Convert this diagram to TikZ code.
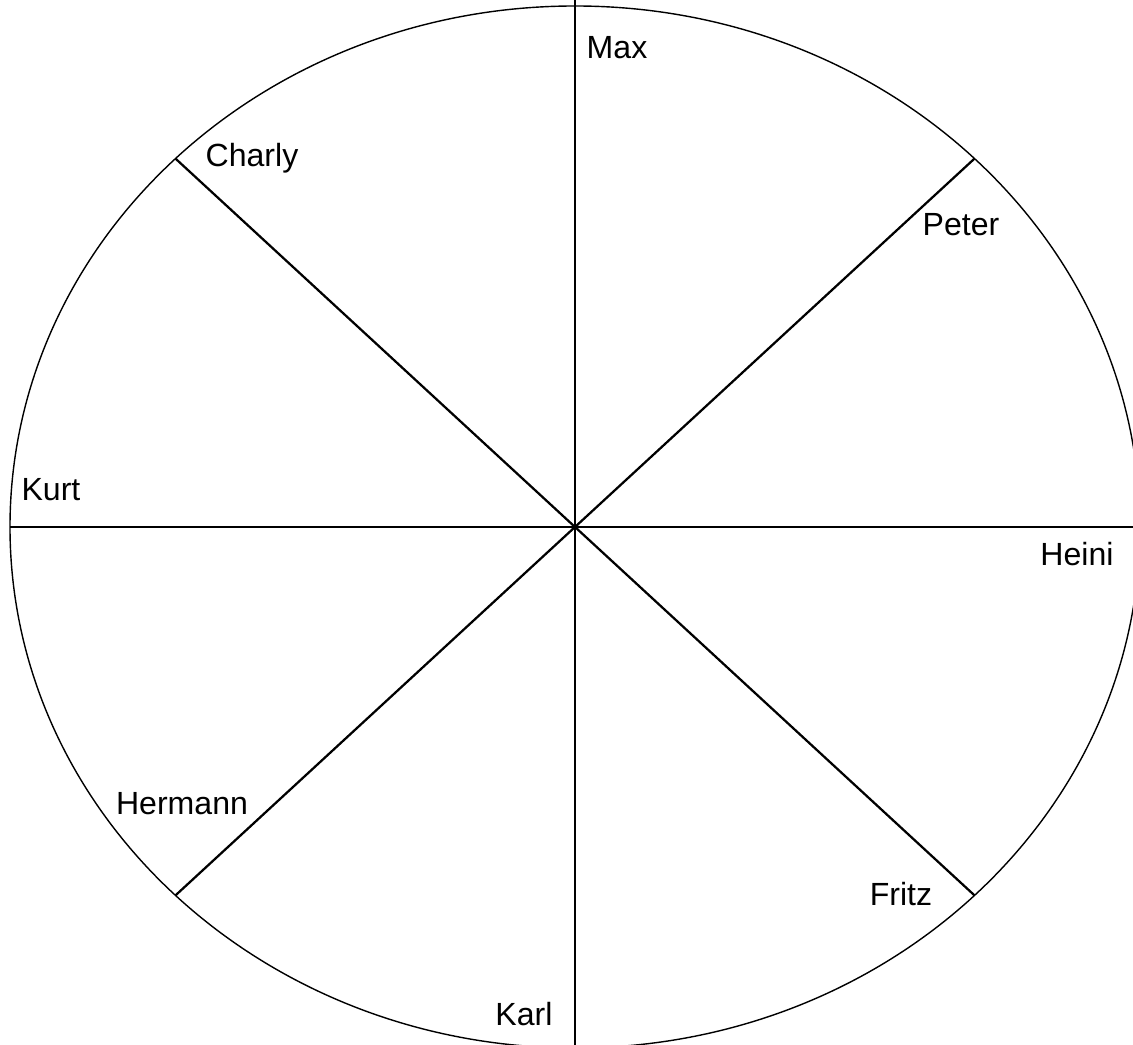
\documentclass[tikz,border=0pt]{standalone}
\usepackage{fontspec}
\setmainfont{Liberation Sans}
\usetikzlibrary{calc}
\begin{document}
\begin{tikzpicture}[
  x=0.025cm, y=0.025cm,
  spoke/.style={line width=1.6pt},
  rim/.style={line width=1pt},
  tag/.style={anchor=base, inner sep=0pt, font=\fontsize{22.8}{27}\selectfont},
]
  \clip (0,0) rectangle (1133,1045);
  \coordinate (c) at (575,518);
  \draw[rim] (c) ellipse [x radius=565, y radius=521];
  % ends of the spokes
  \coordinate (n) at (575,1045);
  \coordinate (s) at (575,0);
  \coordinate (w) at (10,518);
  \coordinate (e) at (1140,518);
  \coordinate (ne) at ($(c)+(45:565 and 521)$);
  \coordinate (nw) at ($(c)+(135:565 and 521)$);
  \coordinate (sw) at ($(c)+(225:565 and 521)$);
  \coordinate (se) at ($(c)+(315:565 and 521)$);
  \foreach \p in {n,s,w,e,ne,nw,sw,se}
    \draw[spoke] (c) -- (\p);
  \node[tag] (max) at (617,986) {Max};
  \node[tag] (charly) at (252,878) {Charly};
  \node[tag] (peter) at (961,809) {Peter};
  \node[tag] (kurt) at (51,544) {Kurt};
  \node[tag] (heini) at (1077,479) {Heini};
  \node[tag] (hermann) at (182,230) {Hermann};
  \node[tag] (fritz) at (901,139) {Fritz};
  \node[tag] (karl) at (524,19) {Karl};
\end{tikzpicture}
\end{document}
